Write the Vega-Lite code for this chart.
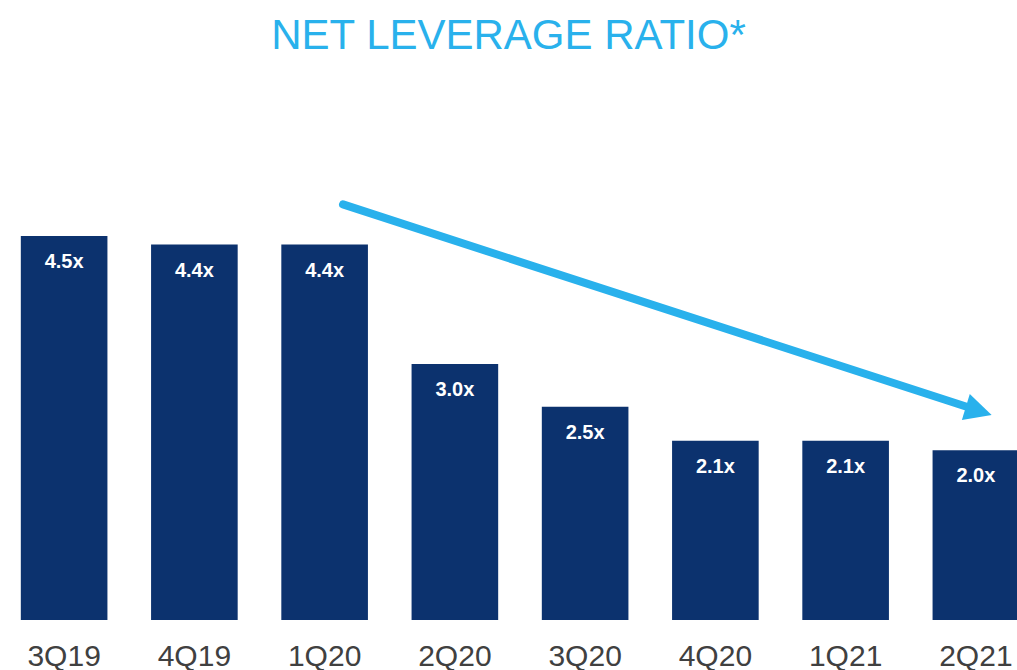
{
  "$schema": "https://vega.github.io/schema/vega-lite/v6.json",
  "width": 1017,
  "height": 512,
  "autosize": {"type": "none"},
  "padding": {"left": 0, "right": 0, "top": 108, "bottom": 50},
  "background": "white",
  "config": {"view": {"stroke": null}, "font": "Liberation Sans"},
  "title": {
    "text": "NET LEVERAGE RATIO*",
    "fontSize": 42,
    "font": "Liberation Sans",
    "fontWeight": "normal",
    "color": "#29b1ec",
    "anchor": "middle",
    "baseline": "alphabetic",
    "offset": 17
  },
  "datasets": {
    "bars": [
      {"quarter": "3Q19", "ratio": 4.5, "label": "4.5x"},
      {"quarter": "4Q19", "ratio": 4.4, "label": "4.4x"},
      {"quarter": "1Q20", "ratio": 4.4, "label": "4.4x"},
      {"quarter": "2Q20", "ratio": 3.0, "label": "3.0x"},
      {"quarter": "3Q20", "ratio": 2.5, "label": "2.5x"},
      {"quarter": "4Q20", "ratio": 2.1, "label": "2.1x"},
      {"quarter": "1Q21", "ratio": 2.1, "label": "2.1x"},
      {"quarter": "2Q21", "ratio": 1.99, "label": "2.0x"}
    ],
    "arrow": [
      {"px": 2.641, "py": 4.87},
      {"px": 7.447, "py": 2.49}
    ],
    "head": [
      {"px": 7.522, "py": 2.45}
    ]
  },
  "resolve": {"scale": {"x": "independent"}},
  "layer": [
    {
      "data": {"name": "bars"},
      "mark": {"type": "bar", "color": "#0c326e"},
      "encoding": {
        "x": {
          "field": "quarter",
          "type": "nominal",
          "sort": null,
          "scale": {"range": [-1, 1041], "paddingInner": 0.335, "paddingOuter": 0.1675},
          "axis": {
            "title": null,
            "domain": false,
            "ticks": false,
            "labelFontSize": 30,
            "labelColor": "#404040",
            "labelFont": "Liberation Sans",
            "labelBaseline": "alphabetic",
            "labelPadding": 45,
            "labelAngle": 0
          }
        },
        "y": {"field": "ratio", "type": "quantitative", "scale": {"domain": [0, 6]}, "axis": null}
      }
    },
    {
      "data": {"name": "bars"},
      "mark": {"type": "text", "color": "white", "fontWeight": "bold", "fontSize": 20, "font": "Liberation Sans", "dy": 32, "baseline": "alphabetic"},
      "encoding": {
        "x": {
          "field": "quarter",
          "type": "nominal",
          "sort": null,
          "scale": {"range": [-1, 1041], "paddingInner": 0.335, "paddingOuter": 0.1675},
          "axis": null
        },
        "y": {"field": "ratio", "type": "quantitative", "axis": null},
        "text": {"field": "label"}
      }
    },
    {
      "data": {"name": "arrow"},
      "mark": {"type": "line", "color": "#29b1ec", "strokeWidth": 8, "strokeCap": "round"},
      "encoding": {
        "x": {"field": "px", "type": "quantitative", "scale": {"domain": [0, 8], "range": [-1, 1041]}, "axis": null},
        "y": {"field": "py", "type": "quantitative", "axis": null}
      }
    },
    {
      "data": {"name": "head"},
      "mark": {"type": "point", "shape": "M-1,-1L1,0L-1,1Z", "size": 729, "angle": 17, "filled": true, "opacity": 1, "color": "#29b1ec"},
      "encoding": {
        "x": {"field": "px", "type": "quantitative", "scale": {"domain": [0, 8], "range": [-1, 1041]}, "axis": null},
        "y": {"field": "py", "type": "quantitative", "axis": null}
      }
    }
  ]
}
